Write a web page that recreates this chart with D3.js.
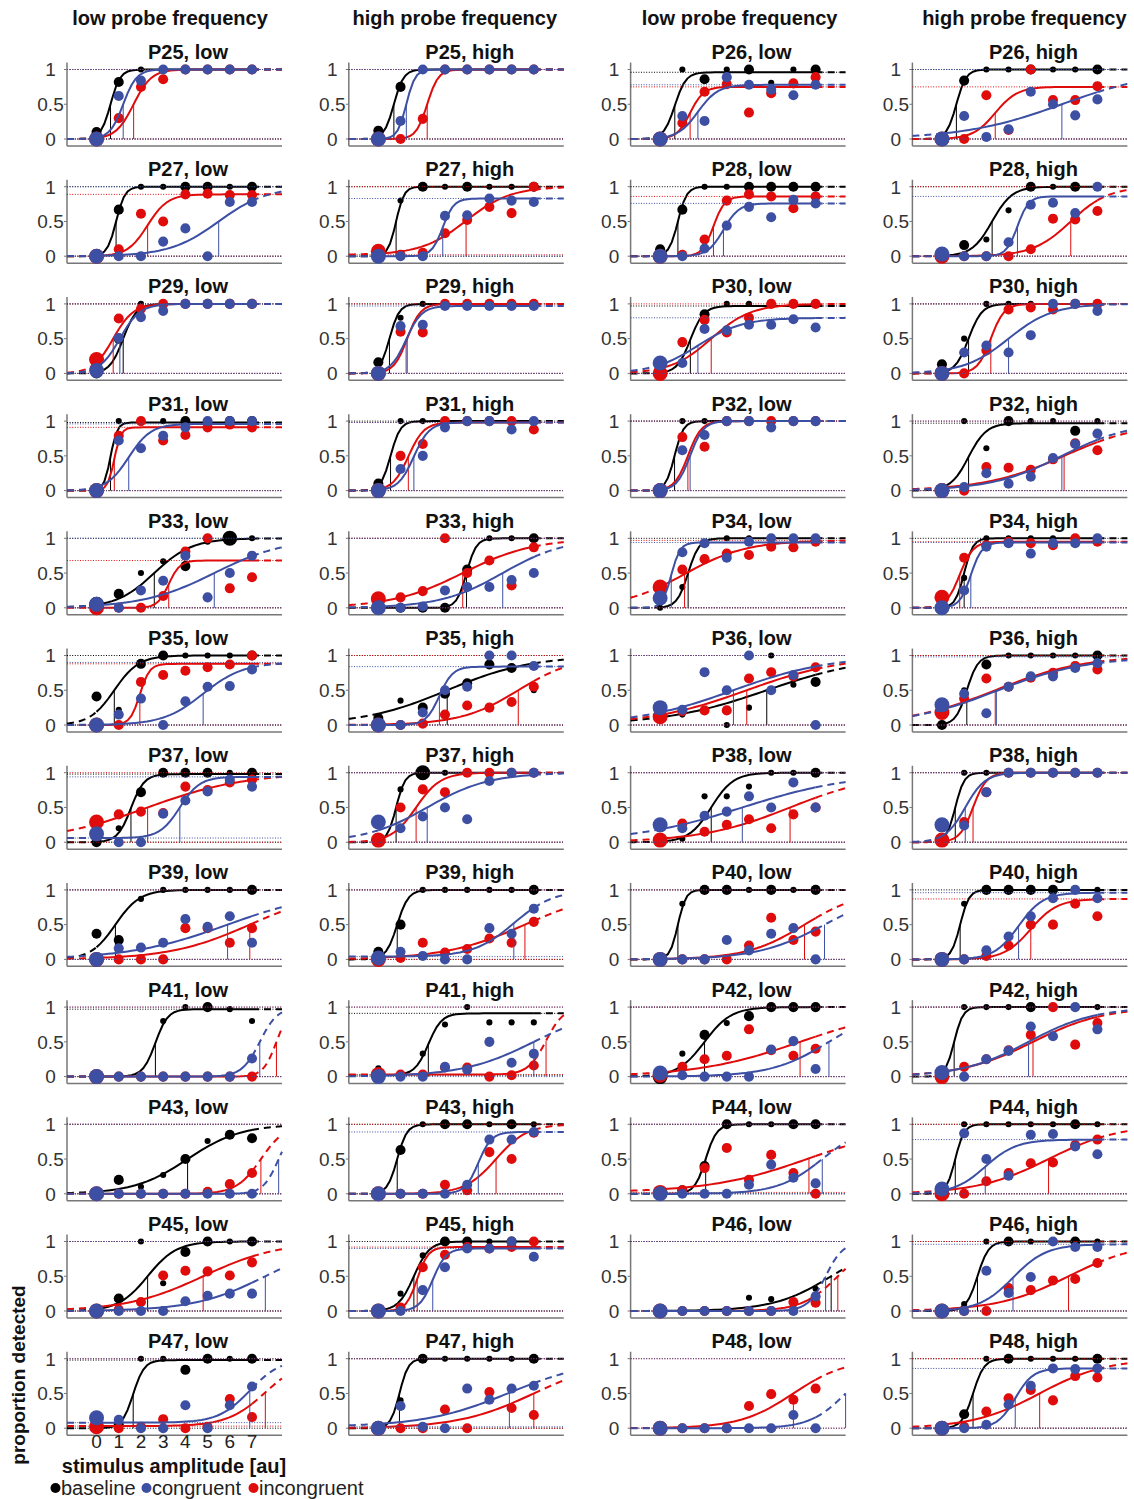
<!DOCTYPE html>
<html>
<head>
<meta charset="utf-8">
<script src="https://cdn.jsdelivr.net/npm/d3@7"></script>
<style>
  body { margin: 0; background: #fff; }
  text { font-family: Arial, "Liberation Sans", sans-serif; }
</style>
</head>
<body>
<script>
// participant / condition per panel, row by row
const panelTitles = [
  "P25, low", "P25, high", "P26, low", "P26, high",
  "P27, low", "P27, high", "P28, low", "P28, high",
  "P29, low", "P29, high", "P30, low", "P30, high",
  "P31, low", "P31, high", "P32, low", "P32, high",
  "P33, low", "P33, high", "P34, low", "P34, high",
  "P35, low", "P35, high", "P36, low", "P36, high",
  "P37, low", "P37, high", "P38, low", "P38, high",
  "P39, low", "P39, high", "P40, low", "P40, high",
  "P41, low", "P41, high", "P42, low", "P42, high",
  "P43, low", "P43, high", "P44, low", "P44, high",
  "P45, low", "P45, high", "P46, low", "P46, high",
  "P47, low", "P47, high", "P48, low", "P48, high"
];
const columnHeaders = ["low probe frequency", "high probe frequency", "low probe frequency", "high probe frequency"];
const amplitudes = [0, 1, 2, 3, 4, 5, 6, 7];

// fitted psychometric functions: [threshold, width, guess rate, upper asymptote]
const baselineFit = [
  [0.63,0.22,0,1],[0.7,0.22,0,1],[0.66,0.25,0,0.96],[0.65,0.22,0,1],
  [0.88,0.2,0,1],[0.8,0.18,0,1],[0.8,0.2,0,1],[2.26,0.45,0,1],
  [1.2,0.3,0,1],[0.5,0.22,0,1],[1.36,0.3,0,0.97],[1.2,0.3,0,1],
  [0.63,0.15,0,0.98],[0.55,0.22,0,1],[0.65,0.2,0,1],[1.2,0.4,0,0.97],
  [2.6,0.85,0,1],[3.97,0.22,0,1],[1.26,0.25,0,1],[1.0,0.2,0,1],
  [0.8,0.55,0,1],[3.1,1.9,0,1],[4.8,2.3,0,1],[1.12,0.25,0,1],
  [1.55,0.3,0,0.98],[0.8,0.2,0,1],[2.3,0.5,0,1],[0.6,0.2,0,1],
  [0.85,0.55,0,1],[0.85,0.25,0,1],[0.8,0.18,0,1],[0.82,0.2,0,1],
  [2.65,0.28,0,0.97],[2.25,0.3,0.02,0.91],[2.0,0.6,0,1],[0.55,0.2,0,1],
  [4.1,1.2,0,1],[0.85,0.22,0,1],[2.05,0.25,0,1],[0.6,0.2,0,1],
  [2.3,0.65,0,1],[1.6,0.35,0,1],[7.7,1.3,0,1],[1.6,0.25,0,1],
  [1.65,0.25,0,0.98],[0.95,0.2,0,1],null,[1.4,0.25,0,1]
];
const congruentFit = [
  [1.2,0.3,0,1],[1.26,0.2,0,1],[1.7,0.45,0,0.78],[5.4,2.2,0,1],
  [5.5,1.1,0,1],[2.9,0.25,0,0.83],[2.85,0.35,0,0.76],[3.4,0.25,0,0.86],
  [1.05,0.45,0,1],[1.25,0.35,0,0.97],[1.7,1.0,0,0.8],[3.0,1.0,0,1],
  [1.45,0.5,0,0.96],[1.6,0.35,0,0.98],[1.35,0.3,0,1],[5.4,1.6,0,1],
  [5.3,1.6,0,1],[5.6,1.4,0,1],[0.5,0.2,0,0.94],[1.3,0.25,0,0.94],
  [4.8,0.9,0,0.9],[2.75,0.3,0,0.84],[3.3,2.2,0,1],[2.45,2.0,0,0.98],
  [3.75,0.45,0.06,0.94],[2.2,1.4,0,1],[3.7,2.5,0,1],[1.05,0.45,0,1],
  [5.9,2.2,0,1],[6.1,0.9,0.04,1],[7.4,1.5,0,1],[3.45,0.55,0,0.96],
  [7.35,0.4,0,1],[7.0,1.6,0,1],[7.6,1.3,0,1],[3.9,1.5,0,1],
  [8.2,0.35,0,1],[4.5,0.3,0,0.89],[7.3,1.0,0,1],[1.95,0.7,0,0.78],
  [7.6,1.6,0,1],[2.45,0.3,0,0.9],[7.45,0.4,0,1],[3.2,0.75,0,0.96],
  [6.9,0.7,0.08,1],[5.9,1.9,0.02,1],[8.35,0.8,0,1],[3.3,0.4,0,0.86]
];
const incongruentFit = [
  [1.67,0.4,0,1],[2.2,0.25,0,1],[1.35,0.3,0,0.75],[2.4,0.5,0,0.75],
  [2.3,0.45,0,0.89],[3.95,1.0,0.02,1],[2.4,0.25,0,0.86],[5.8,0.85,0,1],
  [0.75,0.45,0,1],[1.3,0.3,0,1],[2.3,0.9,0,1],[2.2,0.3,0,1],
  [0.8,0.15,0,0.91],[1.35,0.35,0,0.98],[1.25,0.3,0,1],[5.5,1.8,0,1],
  [3.25,0.25,0,0.68],[3.8,1.6,0,1],[1.1,1.4,0,0.97],[0.8,0.3,0,0.95],
  [1.95,0.22,0,0.88],[6.3,1.3,0,1],[3.9,2.2,0,1],[2.4,2.0,0,1],
  [2.3,2.2,0,1],[1.7,0.55,0,1],[5.85,2.0,0,1],[1.4,0.3,0,1],
  [6.9,1.8,0,1],[6.6,1.8,0,1],[6.5,1.3,0,1],[4.0,0.6,0,0.87],
  [8.1,0.3,0,1],[7.55,0.4,0.03,1],[6.3,2.3,0,1],[4.1,1.6,0,1],
  [7.4,0.55,0,1],[5.3,0.7,0,1],[6.7,2.2,0.02,1],[4.8,1.6,0,1],
  [4.8,1.7,0,1],[1.75,0.25,0,0.92],[8.0,0.8,0,1],[5.7,1.6,0,1],
  [7.6,0.85,0.03,1],[7.0,1.7,0,1],[6.0,1.2,0,1],[4.4,1.5,0,1]
];

// proportion detected at amplitudes 0..7
const baselineProp = [
  [0.1,0.82,1,1,1,1,1,1],[0.12,0.75,1,1,1,1,1,1],[0,1,0.86,1,1,0.81,1,1],[0,0.84,1,1,1,1,1,1],
  [0,0.67,1,1,1,1,1,1],[0,0.8,1,1,1,1,1,1],[0.1,0.67,1,1,1,1,1,1],[0,0.16,0.24,0.66,1,1,1,1],
  [0,0.5,1,1,1,1,1,1],[0.16,0.8,1,1,1,1,1,1],[0.05,0.42,0.85,1,1,1,1,1],[0.13,0.5,1,1,1,1,1,1],
  [0,1,1,1,1,1,1,1],[0.1,1,1,1,1,1,1,1],[0,1,1,1,1,1,1,1],[0,1,0.61,1,1,1,0.86,1],
  [0.05,0.2,0.5,0.67,0.6,0.95,1,1],[0,0,0,0,0.55,1,1,1],[0,0.3,0.67,1,1,1,1,1],[0,0.43,1,1,1,1,1,1],
  [0.41,0.22,0.88,1,1,1,1,1],[0.1,0.35,0.25,0.45,0.6,0.87,0.82,0.5],[0.1,0.15,0.2,0,0.25,1,0.58,0.62],[0,0.5,0.87,1,1,1,1,1],
  [0,0.2,0.72,1,1,1,1,1],[0,0.76,1,1,1,1,1,1],[0,0.05,0.66,0.66,0.8,1,1,1],[0.05,1,1,1,1,1,1,1],
  [0.37,0.28,0.87,1,1,1,1,1],[0.11,0.5,1,1,1,1,1,1],[0,0.8,1,1,1,1,1,1],[0,0.8,1,1,1,1,1,1],
  [0,0,0,0.8,1,1,0.97,0.8],[0.12,0.03,0.33,0.75,1,0.78,0.78,0.78],[0,0.33,0.6,0.77,0.87,1,1,1],[0,1,1,1,1,1,1,1],
  [0,0.2,0.1,0.27,0.5,0.76,0.85,0.8],[0,0.63,1,1,1,1,1,1],[0,0.05,0.4,1,1,1,1,1],[0,1,1,1,1,1,1,1],
  [0,0.18,1,0.4,0.85,1,1,1],[0,0.25,0.8,1,1,1,1,1],[0,0,0,0,0.19,0.17,0.05,0.32],[0,0.1,1,1,1,1,1,1],
  [0,0.05,1,1,0.84,1,1,1],[0,0.4,1,1,1,1,1,1],null,[0,0.2,1,1,1,1,1,1]
];
const congruentProp = [
  [0,0.62,0.84,1,1,1,1,1],[0,0.26,1,1,1,1,1,1],[0,0.33,0.26,0.89,0.78,0.71,0.63,0.78],[0,0.33,0.03,0.14,0.68,0.5,0.34,0.57],
  [0,0,0,0.21,0.4,0,0.78,0.78],[0,0,0,0.58,0.59,0.83,0.8,0.78],[0,0,0.11,0.44,0.71,0.56,0.81,0.76],[0.03,0,0,0.2,0.74,0.77,0.62,1],
  [0.04,0.51,0.81,0.9,1,1,1,1],[0,0.68,0.7,0.97,0.97,0.97,0.97,0.97],[0.15,0.15,0.64,0.62,0.7,0.7,0.78,0.66],[0,0.3,0.4,0.3,0.55,1,1,0.9],
  [0,0.72,0.61,0.79,0.91,1,1,1],[0,0.31,0.5,0.91,1,1,0.88,1],[0,0.58,0.8,1,1,0.91,1,1],[0,0.05,0.25,0.1,0.2,0.47,0.67,0.82],
  [0.05,0,0.25,0.39,0.75,0.15,0.5,0.75],[0,0,0.02,0.25,0.3,0.3,0.4,0.5],[0.14,0.8,0.93,0.72,0.95,1,1,1],[0,0.25,0.88,0.93,0.78,0.93,0.93,1],
  [0,0.15,0.38,0,0.34,0.55,0.56,0.8],[0,0,0.18,0.5,0.55,1,1,0.85],[0.25,0.22,0.76,0.5,1,0.5,0.72,0],[0.29,0.45,0.17,0.55,0.7,0.7,0.82,0.89],
  [0.12,0,0,0.41,0.6,0.73,0.9,0.8],[0.29,0.2,0.37,0.5,0.33,0.88,1,1],[0.25,0.2,0.38,0.44,0.66,0.5,0.86,0.5],[0.25,0.24,0.72,1,1,1,1,1],
  [0,0.16,0.17,0.24,0.58,0.47,0.62,0.24],[0.02,0.11,0.05,0,0,0.45,0.37,0.73],[0,0,0,0.28,0.13,0.37,0.45,0],[0,0,0.13,0.33,0.62,0.88,1,0.88],
  [0,0,0,0,0,0,0,0.26],[0,0,0,0.14,0.1,0.5,0.2,0.33],[0.05,0.02,0,0,0,0.39,0.51,0.11],[0.06,0,0.25,0.37,0.72,0.58,1,0.68],
  [0,0,0,0,0,0,0,0],[0,0,0,0,0.13,0.78,0.78,0.89],[0,0,0,0,0.13,0.42,0.23,0.15],[0.07,0.87,0.5,0.26,0.85,0.86,0.68,0.57],
  [0,0,0,0,0.14,0.22,0.25,0.25],[0,0,0.3,0.63,0.9,0.9,1,0.78],[0,0,0,0,0,0,0,0.21],[0,0,0.58,0.26,0.49,1,0.92,0.92],
  [0.15,0.12,0,0,0.33,0,0.33,0.6],[0,0.32,0.02,0,0.57,0.41,0.57,0.61],[0,0,0,0,0,0,0.19,0],[0,0,0.05,0.34,0.61,0.86,0.85,0.86]
];
const incongruentProp = [
  [0,0.3,0.75,0.86,1,1,1,1],[0,0,0.29,1,1,1,1,1],[0,0.23,0.68,0.79,0.38,0.66,0.8,0.89],[0,0,0.63,0.13,1,0.56,0.56,0.76],
  [0,0.1,0.61,0.5,0.89,0.9,0.88,0.88],[0.07,0.02,0.05,0.33,0.52,0.71,0.62,1],[0,0.02,0.24,0.8,0.89,0.86,0.69,0.86],[0,0,0,0,0.1,0.54,0.53,0.65],
  [0.2,0.79,0.93,1,1,1,1,1],[0,0.6,0.59,1,1,1,1,1],[0,0.45,0.77,0.59,0.8,1,1,1],[0,0,0.33,0.92,0.95,0.92,1,1],
  [0,0.79,1,0.72,0.8,0.91,0.95,0.91],[0,0.5,0.67,1,1,1,1,0.88],[0,0.77,0.63,1,1,1,1,1],[0,0,0.34,0.33,0.3,0.45,0.68,0.58],
  [0,0,0,0.17,0.81,1,0.28,0.44],[0.13,0.15,0.24,1,0.5,0.68,0.32,0.87],[0.3,0.55,0.7,0.78,0.76,0.88,0.87,0.95],[0.15,0.72,0.9,0.95,0.93,0.9,1,0.95],
  [0,0,0.62,0.72,0.78,0.83,0.87,1],[0,0,0.02,0.15,0.28,0.25,0.33,0.55],[0.12,0.2,0.21,0.21,0.67,0.76,0.7,0.83],[0.18,0.38,0.67,0.55,0.68,0.75,0.85,0.8],
  [0.29,0.4,0.44,0.42,0.8,0.75,0.86,0.9],[0.03,0.5,0.76,0.72,1,1,1,1],[0.03,0.27,0.15,0.25,0.33,0.2,0.4,0.5],[0.03,0.29,0.72,1,1,1,1,1],
  [0,0,0,0,0.45,0.45,0.24,0.45],[0,0.02,0.24,0.1,0.15,0.3,0.24,0.54],[0,0,0,0,0.2,0.6,0.28,0.4],[0,0,0.05,0.2,0.5,0.5,0.8,0.62],
  [0,0,0,0,0,0,0,0],[0.03,0.03,0.03,0.13,0.13,0,0.02,0.16],[0.02,0.14,0.25,0.3,0.68,0.38,0.3,0.4],[0,0.14,0.25,0.38,0.6,1,0.46,0.77],
  [0,0,0,0,0,0.03,0.14,0.3],[0,0,0,0.13,0.05,0.6,0.5,0.88],[0.02,0.05,0.37,0.66,0.2,0.56,0.3,0],[0,0,0.18,0.3,0.44,0.45,0.7,0.78],
  [0,0.02,0.13,0.51,0.58,0.57,0.51,0.7],[0,0.05,0.63,0.81,0.92,0.9,0.92,1],[0,0,0,0,0,0,0.13,0.12],[0,0,0,0.33,0.3,0.44,0.46,0.69],
  [0.02,0,0.02,0.13,0,0.02,0.42,0.16],[0,0,0,0.27,0,0.52,0.29,0.19],[0,0,0,0,0.32,0.49,0.41,0.57],[0,0.02,0.24,0.43,0.55,0.4,0.75,0.73]
];

// trial-count class per amplitude (1 few, 2 medium, 3 many)
const baselineN = [
  "22111111","22111111","21212112","22112112","22112212","21212112","22112222","22112121",
  "22111111","21111111","21211111","21111111","21112122","21111111","21111111","21121121",
  "32112131","22222112","11111111","21111111","21221112","21222221","11111112","21211112",
  "21222212","21311111","11111112","21111111","22111112","22111112","21221212","21222211",
  "11111211","11111111","31212222","21112111","22112122","22122121","22221122","21111121",
  "22112212","21122121","11111111","21121121","22112212","21211112",null,"22121112"
];
const congruentN = "32222222";
const incongruentN = "32222222";
const trialCounts = [0, 10, 27, 60];

const BLUE = "#3c4fa3", RED = "#e00b0b";
const series = [
  { name: "baseline", color: "#000000", fit: baselineFit, prop: baselineProp, n: i => baselineN[i] },
  { name: "incongruent", color: RED, fit: incongruentFit, prop: incongruentProp, n: () => incongruentN },
  { name: "congruent", color: BLUE, fit: congruentFit, prop: congruentProp, n: () => congruentN }
];

const W = 1134, H = 1499;
const svg = d3.select("body").append("svg").attr("width", W).attr("height", H);

const colX = c => 67 + c * 281.8;
const rowTop = r => 69.5 + r * 117.2;

const x = d3.scaleLinear().domain([-1.33, 8.35]).range([0, 215]);
const y = d3.scaleLinear().domain([0, 1]).range([69.5, 0]);
const r = d3.scaleSqrt().domain([0, 60]).range([0, 7.5]);

const psy = (f, v) => f[2] + (f[3] - f[2]) / (1 + Math.exp(-(v - f[0]) / f[1]));
const line = d3.line().x(d => x(d[0])).y(d => y(d[1]));
const sample = (a, b) => d3.range(0, 41).map(k => a + (b - a) * k / 40);

// column headers
columnHeaders.forEach((h, c) => {
  svg.append("text")
    .attr("x", colX(c) + 103 + c * 3).attr("y", 25)
    .attr("text-anchor", "middle")
    .style("font-size", "20px").style("font-weight", "bold").attr("fill", "#111")
    .text(h);
});

panelTitles.forEach((title, i) => {
  const c = i % 4, row = Math.floor(i / 4);
  const g = svg.append("g").attr("transform", `translate(${colX(c)},${rowTop(row)})`);

  g.append("text")
    .attr("x", 121).attr("y", -10.5)
    .attr("text-anchor", "middle")
    .style("font-size", "20px").style("font-weight", "bold").attr("fill", "#111")
    .text(title);

  // axes
  g.append("line").attr("x1", 0).attr("x2", 0).attr("y1", y(1.1)).attr("y2", y(-0.1))
    .attr("stroke", "#777").attr("stroke-width", 1.5);
  g.append("line").attr("x1", 0).attr("x2", x(8.35)).attr("y1", y(-0.1)).attr("y2", y(-0.1))
    .attr("stroke", "#777").attr("stroke-width", 1.5);
  [0, 0.5, 1].forEach(t => {
    g.append("line").attr("x1", -3).attr("x2", 0).attr("y1", y(t)).attr("y2", y(t))
      .attr("stroke", "#777").attr("stroke-width", 1);
    g.append("text").attr("x", -16.5).attr("y", y(t)).attr("dy", "0.36em")
      .attr("text-anchor", "middle").style("font-size", "19px").attr("fill", "#333")
      .text(t);
  });

  series.forEach(s => {
    const f = s.fit[i];
    if (!f) return;
    const sg = g.append("g");

    // asymptote reference lines
    [f[2], f[3]].forEach(level => {
      sg.append("line").attr("x1", 0).attr("x2", x(8.35))
        .attr("y1", y(level)).attr("y2", y(level))
        .attr("stroke", s.color).attr("stroke-width", 1)
        .attr("stroke-dasharray", "1,1.6");
    });

    // fitted curve: solid inside tested range, dashed outside
    sg.append("path").datum(sample(0, 7).map(v => [v, psy(f, v)]))
      .attr("d", line).attr("fill", "none").attr("stroke", s.color).attr("stroke-width", 2);
    [[-1.33, 0], [7, 8.35]].forEach(([a, b]) => {
      sg.append("path").datum(sample(a, b).map(v => [v, psy(f, v)]))
        .attr("d", line).attr("fill", "none").attr("stroke", s.color)
        .attr("stroke-width", 2).attr("stroke-dasharray", "7,5");
    });

    // threshold marker
    sg.append("line").attr("x1", x(f[0])).attr("x2", x(f[0]))
      .attr("y1", y(0)).attr("y2", y(psy(f, f[0])))
      .attr("stroke", s.color).attr("stroke-width", 1);

    // data points
    const sizes = s.n(i);
    sg.selectAll("circle")
      .data(s.prop[i].map((p, k) => ({ a: amplitudes[k], p, n: trialCounts[+sizes[k]] })))
      .join("circle")
      .attr("cx", d => x(d.a)).attr("cy", d => y(d.p))
      .attr("r", d => r(d.n))
      .attr("fill", s.color);
  });
});

// x tick labels and axis titles under the bottom-left panel
const bx = colX(0), by = rowTop(11);
amplitudes.forEach(a => {
  svg.append("text").attr("x", bx + x(a)).attr("y", by + 89)
    .attr("text-anchor", "middle").style("font-size", "19px").attr("fill", "#222")
    .text(a);
});
svg.append("text").attr("x", 174).attr("y", 1473)
  .attr("text-anchor", "middle").style("font-size", "20px").style("font-weight", "bold")
  .attr("fill", "#111").text("stimulus amplitude [au]");
svg.append("text")
  .attr("transform", "translate(25,1375) rotate(-90)")
  .attr("text-anchor", "middle").style("font-size", "19px").style("font-weight", "bold")
  .attr("fill", "#111").text("proportion detected");

// legend
const legendItems = [
  { label: "baseline", color: "#000000", x: 50 },
  { label: "congruent", color: BLUE, x: 141 },
  { label: "incongruent", color: RED, x: 248 }
];
legendItems.forEach(l => {
  svg.append("circle").attr("cx", l.x + 5.5).attr("cy", 1488).attr("r", 5).attr("fill", l.color);
  svg.append("text").attr("x", l.x + 11).attr("y", 1495)
    .style("font-size", "20px").attr("fill", "#222").text(l.label);
});
</script>
</body>
</html>
